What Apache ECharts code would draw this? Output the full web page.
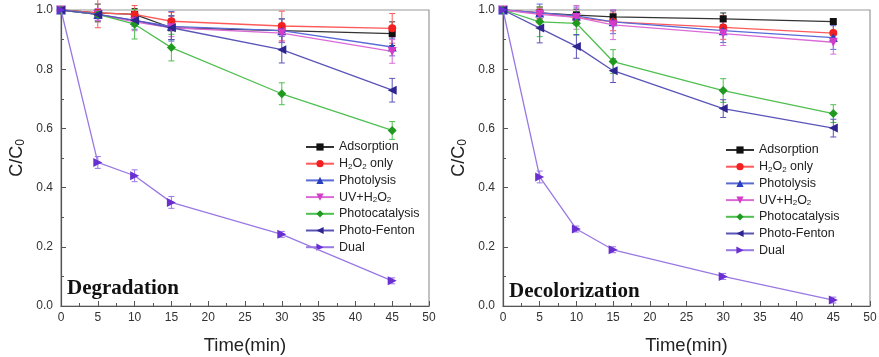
<!DOCTYPE html>
<html>
<head>
<meta charset="utf-8">
<script src="https://cdn.jsdelivr.net/npm/echarts@6/dist/echarts.min.js"></script>
<style>
  html, body { margin: 0; padding: 0; background: #fff; }
  #chart { width: 879px; height: 357px; }
</style>
</head>
<body>
<div id="chart"></div>
<script>
const timeMin = [0, 5, 10, 15, 30, 45];
const seriesNames = ["Adsorption", "H2O2 only", "Photolysis", "UV+H2O2", "Photocatalysis", "Photo-Fenton", "Dual"];

// Degradation (left panel)
const degAdsorption = [1.0, 0.99, 0.985, 0.94, 0.93, 0.92];
const degH2O2 = [1.0, 0.99, 0.985, 0.962, 0.946, 0.938];
const degPhotolysis = [1.0, 0.985, 0.965, 0.945, 0.93, 0.875];
const degUvH2O2 = [1.0, 0.985, 0.96, 0.94, 0.922, 0.86];
const degPhotocatalysis = [1.0, 0.985, 0.952, 0.873, 0.717, 0.593];
const degPhotoFenton = [1.0, 0.985, 0.965, 0.94, 0.866, 0.729];
const degDual = [1.0, 0.485, 0.44, 0.35, 0.242, 0.085];

const degErrAdsorption = [0, 0.03, 0.02, 0.04, 0.04, 0.04];
const degErrH2O2 = [0, 0.05, 0.03, 0.03, 0.05, 0.05];
const degErrPhotolysis = [0, 0.02, 0.03, 0.05, 0.04, 0.03];
const degErrUvH2O2 = [0, 0.02, 0.03, 0.03, 0.03, 0.04];
const degErrPhotocatalysis = [0, 0.01, 0.05, 0.045, 0.037, 0.03];
const degErrPhotoFenton = [0, 0.01, 0.02, 0.04, 0.045, 0.04];
const degErrDual = [0, 0.02, 0.02, 0.02, 0.01, 0.01];

// Decolorization (right panel)
const decAdsorption = [1.0, 0.99, 0.983, 0.977, 0.97, 0.961];
const decH2O2 = [1.0, 0.99, 0.975, 0.96, 0.941, 0.922];
const decPhotolysis = [1.0, 0.99, 0.98, 0.96, 0.93, 0.907];
const decUvH2O2 = [1.0, 0.985, 0.975, 0.95, 0.92, 0.891];
const decPhotocatalysis = [1.0, 0.96, 0.955, 0.826, 0.728, 0.65];
const decPhotoFenton = [1.0, 0.939, 0.877, 0.795, 0.667, 0.601];
const decDual = [1.0, 0.436, 0.26, 0.19, 0.1, 0.02];

const decErrAdsorption = [0, 0.02, 0.02, 0.02, 0.02, 0.01];
const decErrH2O2 = [0, 0.02, 0.02, 0.03, 0.04, 0.03];
const decErrPhotolysis = [0, 0.03, 0.03, 0.04, 0.04, 0.04];
const decErrUvH2O2 = [0, 0.02, 0.04, 0.05, 0.04, 0.04];
const decErrPhotocatalysis = [0, 0.05, 0.04, 0.04, 0.04, 0.03];
const decErrPhotoFenton = [0, 0.05, 0.04, 0.04, 0.03, 0.03];
const decErrDual = [0, 0.02, 0.01, 0.01, 0.01, 0.01];

const degValues = [degAdsorption, degH2O2, degPhotolysis, degUvH2O2, degPhotocatalysis, degPhotoFenton, degDual];
const degErrors = [degErrAdsorption, degErrH2O2, degErrPhotolysis, degErrUvH2O2, degErrPhotocatalysis, degErrPhotoFenton, degErrDual];
const decValues = [decAdsorption, decH2O2, decPhotolysis, decUvH2O2, decPhotocatalysis, decPhotoFenton, decDual];
const decErrors = [decErrAdsorption, decErrH2O2, decErrPhotolysis, decErrUvH2O2, decErrPhotocatalysis, decErrPhotoFenton, decErrDual];

const markerColors = ["#111111", "#f22020", "#2a3fbf", "#d23cc8", "#1f9a1f", "#2e2590", "#6a2fd0"];
const lineColors = ["#333333", "#ff5a5a", "#5a6ad6", "#dc6ad6", "#4fbf4f", "#5a54b8", "#9a78e4"];
const symbols = ["rect", "circle", "triangle", "triangle", "diamond", "triangle", "triangle"];
const symbolRotates = [0, 0, 0, 180, 0, 90, -90];
const symbolSizes = [7, 8, 9, 9, 9, 9, 9];

const chart = echarts.init(document.getElementById("chart"));

const axisColor = "#555";
const labelColor = "#333";
const sans = "Arial, Liberation Sans";

function makeXAxis(gridIndex) {
	return {
		type: "value",
		gridIndex,
		min: 0,
		max: 50,
		interval: 5,
		name: "Time(min)",
		nameLocation: "middle",
		nameGap: 30,
		nameTextStyle: { fontFamily: sans, fontSize: 18.5, color: "#222" },
		axisLine: { show: true, lineStyle: { color: axisColor, width: 1.2 } },
		axisTick: { show: true, inside: true, length: 5, lineStyle: { color: axisColor } },
		minorTick: { show: true, splitNumber: 2, length: 3, lineStyle: { color: axisColor } },
		axisLabel: { color: labelColor, fontFamily: sans, fontSize: 12, margin: 6 },
		splitLine: { show: false }
	};
}

function makeYAxis(gridIndex) {
	return {
		type: "value",
		gridIndex,
		min: 0,
		max: 1,
		interval: 0.2,
		name: "C/C{sub|0}",
		nameLocation: "middle",
		nameGap: 34,
		nameRotate: 90,
		nameTextStyle: {
			fontFamily: sans,
			fontSize: 18,
			color: "#222",
			rich: { sub: { fontSize: 12, verticalAlign: "bottom", padding: [8, 0, 0, 0], fontFamily: sans, color: "#222" } }
		},
		axisLine: { show: true, lineStyle: { color: axisColor, width: 1.2 } },
		axisTick: { show: true, inside: true, length: 5, lineStyle: { color: axisColor } },
		minorTick: { show: true, splitNumber: 2, length: 3, lineStyle: { color: axisColor } },
		axisLabel: { color: labelColor, fontFamily: sans, fontSize: 12, margin: 8, formatter: v => v.toFixed(1) },
		splitLine: { show: false }
	};
}

function legendLabel(name) {
	if (name === "H2O2 only") return "H{sub|2}O{sub|2} only";
	if (name === "UV+H2O2") return "UV+H{sub|2}O{sub|2}";
	return name;
}

function makeLegend(left, top) {
	return {
		orient: "vertical",
		left,
		top,
		padding: 0,
		itemWidth: 28,
		itemHeight: 9,
		itemGap: 2.7,
		data: seriesNames,
		selectedMode: false,
		formatter: legendLabel,
		textStyle: {
			fontFamily: sans,
			fontSize: 12.5,
			color: "#222",
			lineHeight: 14,
			rich: { sub: { fontSize: 8, verticalAlign: "bottom", lineHeight: 14, padding: [5, 0, 0, 0], fontFamily: sans, color: "#222" } }
		}
	};
}

function buildPanel(values, errors, gridIndex) {
	const out = [];
	values.forEach((vals, i) => {
		out.push({
			name: seriesNames[i],
			type: "line",
			xAxisIndex: gridIndex,
			yAxisIndex: gridIndex,
			data: timeMin.map((t, k) => [t, vals[k]]),
			symbol: symbols[i],
			symbolRotate: symbolRotates[i],
			symbolSize: symbolSizes[i],
			showAllSymbol: true,
			z: 3 + i,
			lineStyle: { color: lineColors[i], width: 1.3 },
			itemStyle: { color: markerColors[i] },
			emphasis: { disabled: true }
		});
		out.push({
			name: "err-" + gridIndex + "-" + i,
			type: "custom",
			xAxisIndex: gridIndex,
			yAxisIndex: gridIndex,
			z: 2,
			silent: true,
			data: timeMin.map((t, k) => [t, vals[k] - errors[i][k], vals[k] + errors[i][k]]),
			renderItem: (params, api) => {
				const lo = api.coord([api.value(0), api.value(1)]);
				const hi = api.coord([api.value(0), api.value(2)]);
				if (Math.abs(lo[1] - hi[1]) < 0.5) return null;
				const cap = 3;
				const style = { stroke: lineColors[i], lineWidth: 1 };
				return {
					type: "group",
					children: [
						{ type: "line", shape: { x1: lo[0], y1: lo[1], x2: hi[0], y2: hi[1] }, style },
						{ type: "line", shape: { x1: lo[0] - cap, y1: lo[1], x2: lo[0] + cap, y2: lo[1] }, style },
						{ type: "line", shape: { x1: hi[0] - cap, y1: hi[1], x2: hi[0] + cap, y2: hi[1] }, style }
					]
				};
			}
		});
	});
	return out;
}

const gridStyle = { show: true, borderColor: "#999", borderWidth: 1.2, backgroundColor: "transparent", outerBoundsMode: "none", containLabel: false };

const option = {
	animation: false,
	backgroundColor: "#fff",
	grid: [
		Object.assign({ left: 61, right: 450, top: 10, bottom: 51 }, gridStyle),
		Object.assign({ left: 503, right: 9, top: 10, bottom: 51 }, gridStyle)
	],
	xAxis: [makeXAxis(0), makeXAxis(1)],
	yAxis: [makeYAxis(0), makeYAxis(1)],
	legend: [makeLegend(305, 140), makeLegend(725, 143)],
	graphic: [
		{ type: "text", left: 67, top: 278, style: { text: "Degradation", font: "bold 21px 'Liberation Serif', 'Times New Roman', serif", fill: "#111" } },
		{ type: "text", left: 509, top: 281, style: { text: "Decolorization", font: "bold 21px 'Liberation Serif', 'Times New Roman', serif", fill: "#111" } }
	],
	series: [...buildPanel(degValues, degErrors, 0), ...buildPanel(decValues, decErrors, 1)]
};

chart.setOption(option);
</script>
</body>
</html>
